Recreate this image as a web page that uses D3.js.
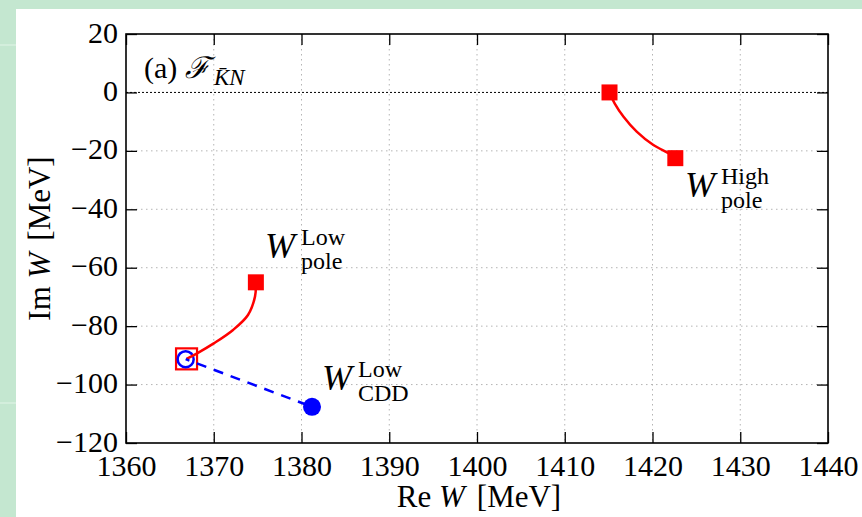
<!DOCTYPE html>
<html>
<head>
<meta charset="utf-8">
<script src="https://cdn.jsdelivr.net/npm/d3@7"></script>
<style>
  html, body { margin: 0; padding: 0; background: #c4e7d0; }
  svg { display: block; }
  .serif { font-family: "Liberation Serif", "DejaVu Serif", serif; fill: #000; }
</style>
</head>
<body>
<svg id="chart" width="862" height="517"></svg>
<script>
// ---------------- data ----------------
const xTicks = [1360, 1370, 1380, 1390, 1400, 1410, 1420, 1430, 1440];
const yTicks = [-120, -100, -80, -60, -40, -20, 0, 20];
const xDomain = [1360, 1440];
const yDomain = [-120, 20];

// High pole trajectory (Re W, Im W)
const highPoleRe = [1415.1, 1415.7, 1416.7, 1418.2, 1420.1, 1422.0, 1422.6];
const highPoleIm = [0.0, -3.8, -8.3, -13.4, -18.0, -21.1, -22.5];

// Low pole trajectory
const lowPoleRe = [1374.8, 1374.7, 1373.9, 1372.2, 1370.0, 1368.1, 1366.9];
const lowPoleIm = [-65.0, -69.9, -76.2, -81.3, -85.9, -89.3, -91.2];

// CDD zero trajectory (straight dashed)
const cddRe = [1366.8, 1381.2];
const cddIm = [-91.3, -107.6];

// ---------------- drawing ----------------
const svg = d3.select("#chart");
const W = 862, H = 517;

svg.append("rect").attr("x", 0).attr("y", 0).attr("width", W).attr("height", H).attr("fill", "#c4e7d0");
svg.append("rect").attr("x", 0).attr("y", 44).attr("width", 16).attr("height", 2).attr("fill", "#d3eedc");
svg.append("rect").attr("x", 0).attr("y", 402).attr("width", 16).attr("height", 2).attr("fill", "#d3eedc");
svg.append("rect").attr("x", 16).attr("y", 9).attr("width", W - 16).attr("height", H - 9).attr("fill", "#fff");

const L = 126, R = 828, T = 34, B = 443;
const x = d3.scaleLinear().domain(xDomain).range([L, R]);
const y = d3.scaleLinear().domain(yDomain).range([B, T]);

// grid
const grid = svg.append("g");
grid.selectAll("line.gx").data(xTicks.filter(d => d > xDomain[0] && d < xDomain[1]))
  .join("line").attr("x1", d => x(d)).attr("x2", d => x(d)).attr("y1", T).attr("y2", B)
  .attr("stroke", "#b4b4b4").attr("stroke-width", 1).attr("stroke-dasharray", "1.5,3.5");
grid.selectAll("line.gy").data(yTicks.filter(d => d > yDomain[0] && d < yDomain[1] && d !== 0))
  .join("line").attr("class", "gy").attr("x1", L).attr("x2", R).attr("y1", d => y(d)).attr("y2", d => y(d))
  .attr("stroke", "#b4b4b4").attr("stroke-width", 1).attr("stroke-dasharray", "1.5,3.5");
// zero line
svg.append("line").attr("x1", L).attr("x2", R).attr("y1", y(0)).attr("y2", y(0))
  .attr("stroke", "#000").attr("stroke-width", 1).attr("stroke-dasharray", "2,2");

// axes
const fmt = d3.format("d");
const tk = 11;
const axB = svg.append("g").attr("transform", `translate(0,${B})`)
  .call(d3.axisBottom(x).tickValues(xTicks).tickFormat(fmt).tickSizeInner(-tk).tickSizeOuter(0).tickPadding(12));
const axL = svg.append("g").attr("transform", `translate(${L},0)`)
  .call(d3.axisLeft(y).tickValues(yTicks).tickFormat(fmt).tickSizeInner(-tk).tickSizeOuter(0).tickPadding(8));
const axT = svg.append("g").attr("transform", `translate(0,${T})`)
  .call(d3.axisTop(x).tickValues(xTicks).tickFormat("").tickSizeInner(-tk).tickSizeOuter(0));
const axR = svg.append("g").attr("transform", `translate(${R},0)`)
  .call(d3.axisRight(y).tickValues(yTicks).tickFormat("").tickSizeInner(-tk).tickSizeOuter(0));

[axB, axL, axT, axR].forEach(a => {
  a.select(".domain").remove();
  a.selectAll(".tick line").attr("stroke", "#000").attr("stroke-width", 1.3);
  a.selectAll(".tick text").attr("class", "serif").attr("font-size", 30).attr("fill", "#000");
});
axB.selectAll(".tick text").attr("dy", "0.71em");
axL.selectAll(".tick text").attr("dy", "0.27em");

// frame
svg.append("rect").attr("x", L).attr("y", T).attr("width", R - L).attr("height", B - T)
  .attr("fill", "none").attr("stroke", "#000").attr("stroke-width", 1.6);

// axis titles
const xt = svg.append("text").attr("class", "serif").attr("x", (L + R) / 2 + 2).attr("y", 507)
  .attr("text-anchor", "middle").attr("font-size", 31);
xt.append("tspan").text("Re ");
xt.append("tspan").attr("font-style", "italic").text("W");
xt.append("tspan").attr("dx", 12).text("[MeV]");

const yt = svg.append("text").attr("class", "serif")
  .attr("transform", `translate(50,${(T + B) / 2}) rotate(-90)`)
  .attr("text-anchor", "middle").attr("font-size", 31);
yt.append("tspan").text("Im ");
yt.append("tspan").attr("font-style", "italic").text("W");
yt.append("tspan").attr("dx", 12).text("[MeV]");

// open markers (low pole end / CDD start)
svg.append("rect").attr("x", x(lowPoleRe[lowPoleRe.length - 1]) - 10.5).attr("y", y(lowPoleIm[lowPoleIm.length - 1]) - 10.5)
  .attr("width", 21).attr("height", 21).attr("fill", "none").attr("stroke", "#ff0000").attr("stroke-width", 2.2);
svg.append("circle").attr("cx", x(cddRe[0])).attr("cy", y(cddIm[0])).attr("r", 8)
  .attr("fill", "none").attr("stroke", "#0000ff").attr("stroke-width", 2.5);

// lines
const line = d3.line().curve(d3.curveCatmullRom);
const hp = highPoleRe.map((d, i) => [x(d), y(highPoleIm[i])]);
const lp = lowPoleRe.map((d, i) => [x(d), y(lowPoleIm[i])]);
const cp = cddRe.map((d, i) => [x(d), y(cddIm[i])]);
svg.append("path").attr("d", line(hp)).attr("fill", "none").attr("stroke", "#ff0000").attr("stroke-width", 2.5);
svg.append("path").attr("d", line(lp)).attr("fill", "none").attr("stroke", "#ff0000").attr("stroke-width", 2.5);
svg.append("path").attr("d", d3.line()(cp)).attr("fill", "none").attr("stroke", "#0000ff").attr("stroke-width", 2.5)
  .attr("stroke-dasharray", "10,8").attr("stroke-dashoffset", -12);

// filled markers
const sq = 16;
const filledSquares = [hp[0], hp[hp.length - 1], lp[0]];
svg.selectAll("rect.fs").data(filledSquares).join("rect").attr("class", "fs")
  .attr("x", d => d[0] - sq / 2).attr("y", d => d[1] - sq / 2).attr("width", sq).attr("height", sq)
  .attr("fill", "#ff0000");
svg.append("circle").attr("cx", cp[1][0]).attr("cy", cp[1][1]).attr("r", 9).attr("fill", "#0000ff");

// labels
function wLabel(xw, yb, sup, sub) {
  const t = svg.append("text").attr("class", "serif").attr("x", xw).attr("y", yb);
  t.append("tspan").attr("font-size", 36).attr("font-style", "italic").text("W");
  t.append("tspan").attr("x", xw + 36).attr("y", yb - 13).attr("font-size", 24).text(sup);
  t.append("tspan").attr("x", xw + 36).attr("y", yb + 11).attr("font-size", 24).text(sub);
}
wLabel(685, 197, "High", "pole");
wLabel(265, 258, "Low", "pole");
wLabel(322, 390, "Low", "CDD");

// panel title
const tt = svg.append("text").attr("class", "serif").attr("x", 144).attr("y", 78).attr("font-size", 30);
tt.append("tspan").text("(a) ");
tt.append("tspan").attr("font-style", "italic").text("\u2131");
tt.append("tspan").attr("x", 214).attr("y", 85).attr("font-size", 23).attr("font-style", "italic").text("K\u0304N");
</script>
</body>
</html>
